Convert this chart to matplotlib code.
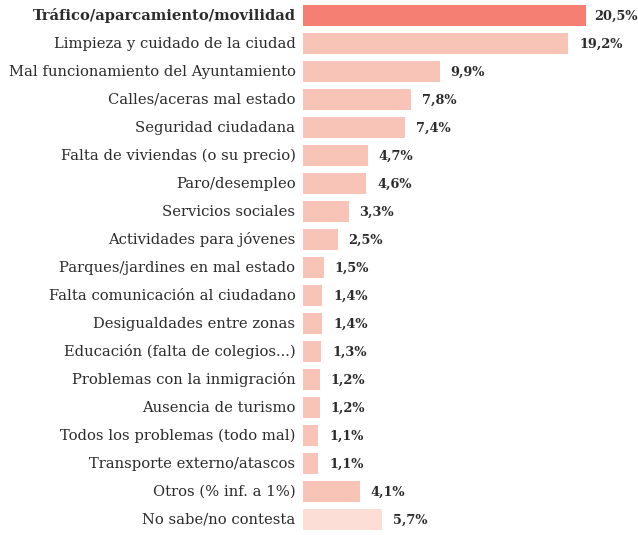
import matplotlib.pyplot as plt

categories = [
    "Tráfico/aparcamiento/movilidad",
    "Limpieza y cuidado de la ciudad",
    "Mal funcionamiento del Ayuntamiento",
    "Calles/aceras mal estado",
    "Seguridad ciudadana",
    "Falta de viviendas (o su precio)",
    "Paro/desempleo",
    "Servicios sociales",
    "Actividades para jóvenes",
    "Parques/jardines en mal estado",
    "Falta comunicación al ciudadano",
    "Desigualdades entre zonas",
    "Educación (falta de colegios...)",
    "Problemas con la inmigración",
    "Ausencia de turismo",
    "Todos los problemas (todo mal)",
    "Transporte externo/atascos",
    "Otros (% inf. a 1%)",
    "No sabe/no contesta",
]
values = [20.5, 19.2, 9.9, 7.8, 7.4, 4.7, 4.6, 3.3, 2.5, 1.5, 1.4, 1.4, 1.3, 1.2, 1.2, 1.1, 1.1, 4.1, 5.7]

text_color = "#2b2b2b"
colors = ["#f47f72"] + ["#f9c4b8"] * 17 + ["#fcded6"]

fig = plt.figure(figsize=(6.38, 5.35), dpi=100)
ax = fig.add_axes([303 / 638, 0, 335 / 638, 1])

pos = list(range(len(values)))
ax.barh(pos, values, height=0.75, color=colors)

xmax = 335 / 13.8
ax.set_xlim(0, xmax)
ax.set_ylim(18.536, -0.571)
ax.axis("off")

for i, (name, v) in enumerate(zip(categories, values)):
    ax.text(-0.55, i, name, ha="right", va="center", fontsize=10.6,
            family="DejaVu Serif", color=text_color,
            fontweight="bold" if i == 0 else "normal")
    label = f"{v:.1f}%".replace(".", ",")
    # the longest bar's label is pushed against the right edge
    if v + 0.8 + 3.3 > xmax:
        ax.text(xmax - 0.05, i, label, ha="right", va="center", fontsize=9.3,
                family="DejaVu Serif", fontweight="bold", color=text_color)
    else:
        ax.text(v + 0.8, i, label, ha="left", va="center", fontsize=9.3,
                family="DejaVu Serif", fontweight="bold", color=text_color)

fig.savefig("out.png", dpi=100)
